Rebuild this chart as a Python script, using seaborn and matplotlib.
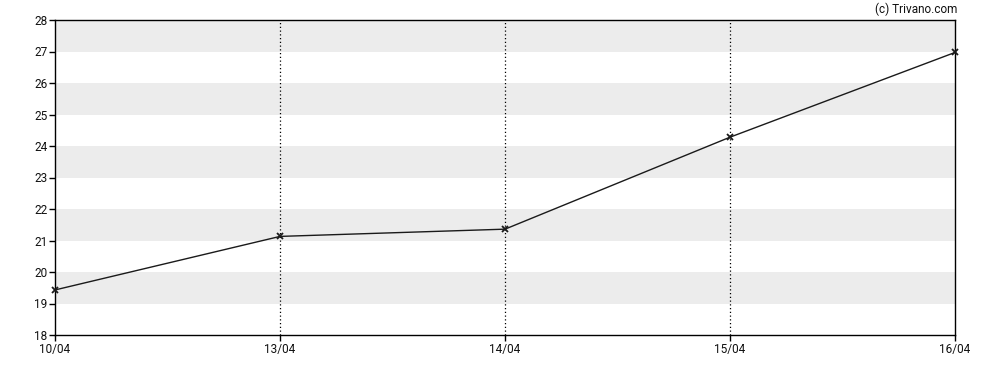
import matplotlib
matplotlib.use("Agg")
import matplotlib.pyplot as plt
import seaborn as sns
import pandas as pd

dates = ["10/04", "13/04", "14/04", "15/04", "16/04"]
prices = [19.43, 21.13, 21.36, 24.28, 26.97]
y_ticks = [18, 19, 20, 21, 22, 23, 24, 25, 26, 27, 28]

sns.set_theme(style="white")
plt.rcParams['font.family'] = ['Roboto', 'DejaVu Sans']

df = pd.DataFrame({"pos": range(len(dates)), "price": prices})

fig = plt.figure(figsize=(9.88, 3.70), dpi=100)
ax = fig.add_axes([55/988, 1 - 335/370, (955-55)/988, (335-20)/370])

for lo in range(19, 28, 2):
    ax.axhspan(lo, lo + 1, color="#ececec", zorder=0, lw=0)

for i in range(1, len(dates) - 1):
    ax.axvline(i, color="black", linestyle=(0, (1, 2)), lw=0.9, zorder=1)

sns.lineplot(data=df, x="pos", y="price", ax=ax, color="#1a1a1a", lw=1.0,
             marker="x", markersize=4, markeredgewidth=1.3, markeredgecolor="#1a1a1a",
             zorder=3, clip_on=False)

ax.set_xlim(0, len(dates) - 1)
ax.set_ylim(18, 28)
ax.set_xticks(range(len(dates)))
ax.set_xticklabels(dates)
ax.set_yticks(y_ticks)
ax.set_xlabel("")
ax.set_ylabel("")
for s in ax.spines.values():
    s.set_color("black")
    s.set_linewidth(1.0)
ax.tick_params(axis="both", which="both", length=4, width=1, color="black",
               labelsize=8.5, labelcolor="#111111", direction="out",
               bottom=True, left=True, pad=1.5)
ax.grid(False)

fig.text(957/988, 1 - 9/370, "(c) Trivano.com", ha="right", va="center",
         fontsize=8.5, color="#111111")

fig.savefig("out.png", dpi=100)
